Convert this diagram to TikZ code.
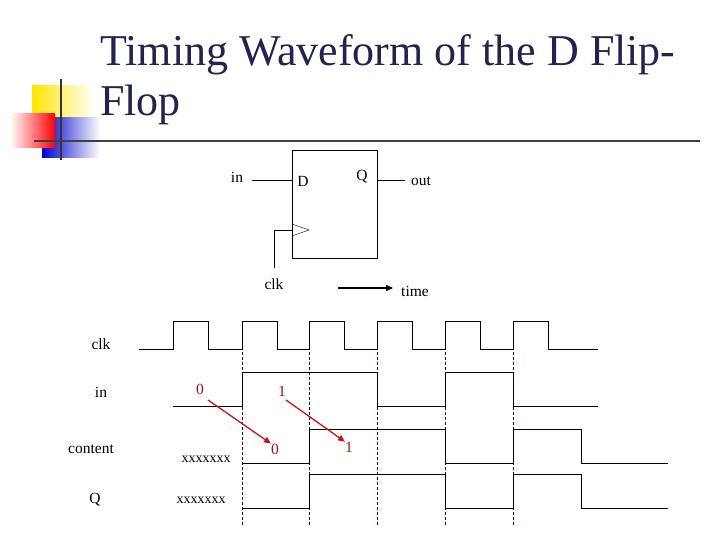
\documentclass[tikz,border=0pt]{standalone}
\usepackage{fontspec}
\setmainfont{Liberation Serif}
\usetikzlibrary{positioning,arrows.meta,calc}
\definecolor{titleblue}{RGB}{35,35,75}
\definecolor{arrred}{RGB}{200,20,20}
\begin{document}
\begin{tikzpicture}[x=1pt,y=-1pt,font=\fontsize{15.5}{18}\selectfont,
wave/.style={line width=0.9pt},
edge/.style={densely dashed, draw=black!60!blue, line width=0.6pt},
lbl/.style={inner sep=0pt},
redlbl/.style={inner sep=0pt, text=arrred!80!black},
redarr/.style={-{Triangle[length=7pt,width=6pt]}, draw=arrred, line width=1.3pt}]
    \useasboundingbox (0,0) rectangle (720,540);

    % corner decoration
    \shade[left color=yellow!80!orange, right color=white] (32,86) rectangle (95,118);
    \shade[left color=blue!80!black, right color=white] (42,118) rectangle (100,158);
    \shade[left color=white, right color=red] (10,114) rectangle (55,148);
    \draw[line width=1.6pt, black!80] (61,79) -- (61,160);
    \draw[line width=1.6pt, black!75] (34,141) -- (700,141);

    % title
    \node[anchor=base west, inner sep=0pt, text=titleblue, font=\fontsize{44}{50}\selectfont] (title1) at (100,66) {Timing Waveform of the D Flip-};
    \node[anchor=base west, inner sep=0pt, text=titleblue, font=\fontsize{44}{50}\selectfont] (title2) at (100,116) {Flop};

    % flip-flop
    \node[draw, line width=0.8pt, minimum width=85pt, minimum height=108pt, anchor=north west] (ff) at (292,150) {};
    \node[lbl] (dpin) at (303,181) {D};
    \node[lbl] (qpin) at (362,177) {Q};
    \node[lbl] (in) at (237,177) {in};
    \node[lbl] (out) at (421,181) {out};
    \node[lbl] (clk) at (274,284) {clk};
    \coordinate (inend) at (252,180);
    \coordinate (outend) at (405,180);
    \coordinate (clkend) at (274,268);
    \draw (inend) -- (ff.west|-inend);
    \draw (ff.east|-outend) -- (outend);
    \draw (292,224) -- (309,230) -- (292,236);
    \draw (292,230) -- (274,230) -- (clkend);
    \coordinate (t0) at (338,288);
    \coordinate (t1) at (393,288);
    \draw[-{Triangle[length=7pt,width=6pt]}, line width=1.3pt] (t0) -- (t1);
    \node[lbl] (time) at (415,291) {time};

    % signal names
    \node[lbl] (sclk) at (101,344) {clk};
    \node[lbl] (sin) at (101,392) {in};
    \node[lbl] (scont) at (91,449) {content};
    \node[lbl] (sq) at (95,500) {Q};

    % clock
    \draw[wave] (139,349)
    \foreach \r in {173,242,309,377,445,513} {
        -- (\r,349) -- (\r,321) -- ({\r+35},321) -- ({\r+35},349)
    } -- (598,349);
    \foreach \r in {242,309,377,445,513}
        \draw[edge] (\r,352) -- (\r,525);

    % in
    \draw[wave] (173,406) -- (242,406) -- (242,372) -- (377,372) -- (377,406)
        -- (445,406) -- (445,372) -- (513,372) -- (513,406) -- (598,406);
    % content
    \draw[wave] (242,463) -- (309,463) -- (309,429) -- (445,429) -- (445,463)
        -- (513,463) -- (513,429) -- (581,429) -- (581,463) -- (668,463);
    % Q
    \draw[wave] (242,508) -- (309,508) -- (309,474) -- (445,474) -- (445,508)
        -- (513,508) -- (513,474) -- (581,474) -- (581,508) -- (668,508);
    \node[lbl, font=\fontsize{14}{16}\selectfont] (xc) at (206,459) {xxxxxxx};
    \node[lbl, font=\fontsize{14}{16}\selectfont] (xq) at (201,500) {xxxxxxx};

    % sampling
    \node[redlbl] (v0) at (200,389) {0};
    \node[redlbl] (v1) at (282,391) {1};
    \node[redlbl] (w0) at (275,449) {0};
    \node[redlbl] (w1) at (349,447) {1};
    \draw[redarr] (208,400) -- (w0.north west);
    \draw[redarr] (286,400) -- (w1.north west);
\end{tikzpicture}
\end{document}
